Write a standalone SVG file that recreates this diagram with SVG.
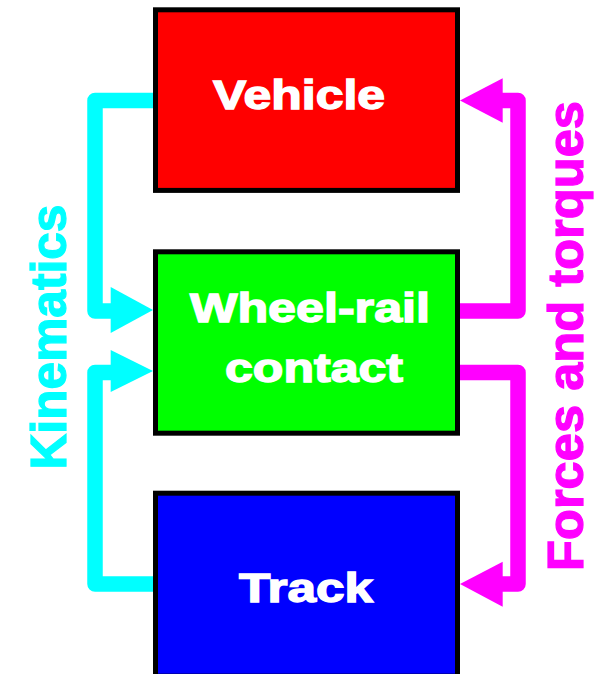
<svg xmlns="http://www.w3.org/2000/svg" width="602" height="674" viewBox="0 0 602 674">
<style>
.box{stroke:#000;stroke-width:5}
.lbl{font-family:"Liberation Sans",Arial,sans-serif;font-weight:bold;font-size:40px;fill:#fff;stroke:#fff;stroke-width:1.4;text-anchor:middle}
.side{font-family:"Liberation Sans",Arial,sans-serif;font-weight:bold;font-size:50px;stroke-width:1.2;text-anchor:middle}
.cy{fill:none;stroke:#00FFFF;stroke-width:15.5;stroke-linejoin:round}
.mg{fill:none;stroke:#FF00FF;stroke-width:15.5;stroke-linejoin:round}
</style>
<rect width="602" height="674" fill="#fff"/>
<g id="connectors">
<path class="cy" d="M153,100.5 H95 V311 H113"/>
<polygon fill="#00FFFF" points="110.7,287 153,310 110.7,333"/>
<path class="cy" d="M153,584 H95 V372.5 H113"/>
<polygon fill="#00FFFF" points="110.7,350 153,371 110.7,392"/>
<path class="mg" d="M460,311 H518 V100.5 H500"/>
<polygon fill="#FF00FF" points="502.7,78.3 460,100.5 502.7,122.7"/>
<path class="mg" d="M460,372.5 H518 V584 H500"/>
<polygon fill="#FF00FF" points="502.7,561.7 460,584 502.7,606.7"/>
</g>
<g id="vehicle">
<rect class="box" x="155.5" y="9.8" width="302" height="180.6" fill="#FF0000"/>
<text class="lbl" x="299" y="109" textLength="172" lengthAdjust="spacingAndGlyphs">Vehicle</text>
</g>
<g id="wheelrail">
<rect class="box" x="155.5" y="251.8" width="302" height="181.4" fill="#00FF00"/>
<text class="lbl" x="310" y="322" textLength="240" lengthAdjust="spacingAndGlyphs">Wheel-rail</text>
<text class="lbl" x="314" y="382" textLength="178" lengthAdjust="spacingAndGlyphs">contact</text>
</g>
<g id="track">
<rect class="box" x="155.5" y="493.2" width="302" height="183" fill="#0000FF"/>
<text class="lbl" x="306" y="602" textLength="134" lengthAdjust="spacingAndGlyphs">Track</text>
</g>
<g id="labels">
<text class="side" fill="#00FFFF" stroke="#00FFFF" transform="translate(66,337) rotate(-90)" x="0" y="0" textLength="265" lengthAdjust="spacingAndGlyphs">Kinematics</text>
<text class="side" fill="#FF00FF" stroke="#FF00FF" transform="translate(583,336) rotate(-90)" x="0" y="0" textLength="470" lengthAdjust="spacingAndGlyphs">Forces and torques</text>
</g>
</svg>
